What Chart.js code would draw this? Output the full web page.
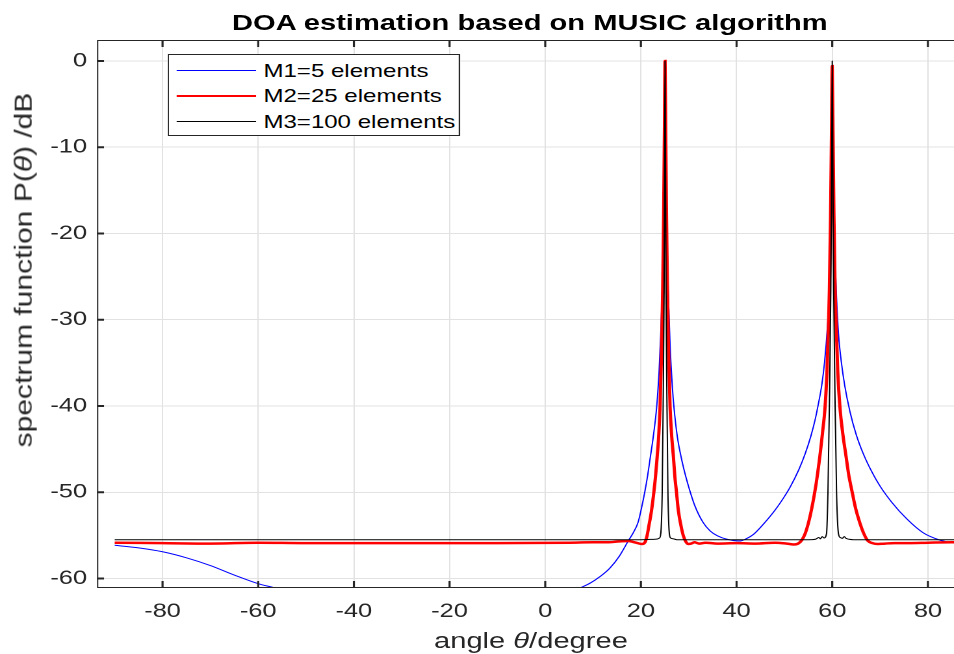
<!DOCTYPE html>
<html>
<head>
<meta charset="utf-8">
<script src="https://cdn.jsdelivr.net/npm/chart.js@4.4.1/dist/chart.umd.min.js"></script>
<style>
  html, body { margin: 0; padding: 0; background: #fff; }
  #wrap { position: absolute; left: 0; top: 0; width: 734px; height: 654px;
          transform: scaleX(1.2997); transform-origin: 0 0; font-family: "Liberation Sans", Arial, sans-serif; color: #000; }
  #c { position: absolute; left: 0; top: 0; }
  .title { position: absolute; left: 407.7px; top: 23px; transform: translate(-50%, -50%);
           font-weight: bold; font-size: 22.4px; white-space: nowrap; }
  .xlabel { position: absolute; left: 408.5px; top: 641px; transform: translate(-50%, -50%);
            font-size: 22.4px; white-space: nowrap; color: #262626; }
  .ylabel { position: absolute; left: 24px; top: 270px; transform: translate(-50%, -50%) rotate(-90deg) scale(1.34, 1.1);
            font-family: "Liberation Sans", Arial, sans-serif; font-size: 22.4px; white-space: nowrap; color: #262626; }
  .legend { position: absolute; left: 129.2px; top: 54px; width: 224.6px; height: 82px;
            border: 1px solid #262626; background: #fff; box-sizing: border-box; }
  .lrow { position: absolute; left: 0; height: 0; }
  .lline { position: absolute; left: 6px; width: 60.8px; }
  .ltext { position: absolute; left: 72.5px; font-size: 18.5px; white-space: nowrap; color: #000; transform: translateY(-50%); }
</style>
</head>
<body>
<div id="wrap">
  <canvas id="c" width="734" height="654"></canvas>
  <div class="title">DOA estimation based on MUSIC algorithm</div>
  <div class="xlabel">angle <i>θ</i>/degree</div>
  <div class="legend" id="legend"></div>
</div>
<div class="ylabel">spectrum function P(<i>θ</i>) /dB</div>
<script>
// ---- data ----
const seriesNames = ["M1=5 elements", "M2=25 elements", "M3=100 elements"];
const xTicks = [-80, -60, -40, -20, 0, 20, 40, 60, 80];
const yTicks = [0, -10, -20, -30, -40, -50, -60];

const m1Angle = [-90,-85,-80,-75,-70,-65,-60,-56.5,-50,-40,-30,-20,-10,-3,3,7.3,9.5,11.4,13.5,15.5,17.4,18.5,19.4,20.1,20.8,21.4,21.9,22.6,23.3,23.8,24.2,24.45,24.75,24.95,25.05,25.2,25.45,25.7,26.1,26.6,26.9,27.6,28.4,29.2,30.0,31.3,33.0,34.5,36.0,38.0,40.7,42.0,43.5,45.6,48.0,50.0,51.2,53.0,54.3,55.5,56.5,57.1,57.8,58.4,59.0,59.4,59.65,59.85,60.0,60.2,60.5,60.9,61.3,61.9,62.6,63.7,65.0,66.5,68.2,70.0,72.5,75.6,79.0,82.5,86.0,90.0];
const m1Power = [-56.15,-56.45,-56.9,-57.6,-58.5,-59.6,-60.6,-61.1,-62.2,-63.6,-64.5,-64.8,-64.3,-63.3,-62.2,-61.1,-60.5,-59.8,-58.8,-57.4,-55.6,-54.6,-53.5,-51.9,-50.0,-48.1,-46.2,-43.5,-40.1,-36,-31,-26.6,-18,-8,-3,-10,-20,-26.6,-33,-38,-40.1,-43.5,-45.9,-47.8,-49.4,-51.6,-53.5,-54.5,-55.05,-55.45,-55.65,-55.4,-54.9,-53.7,-52.1,-50.5,-49.4,-47.4,-45.6,-43.55,-41.4,-39.75,-37.6,-34.9,-30.8,-26.6,-21,-12,-1,-12,-21,-27.5,-31.6,-34.9,-37.6,-40.65,-43.3,-45.55,-47.55,-49.3,-51.2,-53.1,-54.7,-55.55,-55.95,-56.3];

const m2Angle = [-90,-80,-70,-60,-50,-30,-10,5,10,13,15.5,17.3,19.0,20.2,20.9,21.3,21.7,22.2,22.75,23.05,23.4,23.75,24.0,24.35,24.55,24.75,24.92,25.05,25.18,25.35,25.55,25.75,26.1,26.4,26.8,27.1,27.4,27.85,28.35,28.85,29.35,29.9,30.5,31.2,32.2,33.5,36,40,44,48,50.5,52,53.0,53.7,54.4,55.0,55.7,56.4,56.9,57.4,57.95,58.5,58.9,59.2,59.4,59.65,59.85,60.0,60.15,60.35,60.6,60.85,61.15,61.6,62.2,62.9,63.45,64.1,64.9,65.8,66.6,67.4,68.4,69.6,71.0,73,76,80,85,90];
const m2Power = [-55.85,-55.9,-55.95,-55.85,-55.9,-55.9,-55.9,-55.85,-55.8,-55.8,-55.7,-55.65,-55.85,-56.0,-55.75,-55.0,-53.8,-52.2,-49.8,-48.2,-45.9,-43.2,-40.1,-33,-26.6,-18,-8,0,-8,-18,-26.6,-33,-40.1,-43.2,-45.9,-48.2,-49.8,-52.2,-53.8,-55.0,-55.7,-56.0,-55.95,-55.8,-55.95,-55.85,-55.95,-55.9,-55.95,-55.85,-55.95,-56.05,-55.9,-55.5,-54.7,-53.6,-51.9,-49.8,-48.0,-45.9,-43.2,-40.1,-36,-31,-26.6,-18,-8,-0.6,-8,-18,-26.6,-31,-36,-40.1,-43.2,-45.9,-48.0,-49.8,-51.9,-53.6,-54.8,-55.6,-55.9,-56.0,-55.95,-55.9,-55.9,-55.85,-55.8,-55.85];

const m3Angle = [-90,0,20,23.0,23.9,24.2,24.45,24.65,24.85,24.97,25.05,25.13,25.25,25.45,25.65,25.9,26.2,26.8,27.5,55.0,56.5,57.2,57.5,57.9,58.3,58.8,59.1,59.4,59.7,59.9,60.0,60.1,60.3,60.6,60.9,61.3,61.7,62.1,62.5,62.9,63.5,64.5,90];
const m3Power = [-55.5,-55.5,-55.5,-55.45,-55.3,-54.5,-50,-40,-26.6,-10,0,-10,-26.6,-40,-50,-54.5,-55.3,-55.4,-55.5,-55.5,-55.45,-55.25,-55.4,-55.15,-55.3,-54.8,-50,-40,-26.6,-10,0,-10,-26.6,-40,-50,-54.8,-55.25,-55.35,-55.15,-55.35,-55.45,-55.5,-55.5];

const seriesColors = ["#0000ff", "#ff0000", "#000000"];
const seriesWidths = [1, 2.5, 1];

function pts(a, p) { return a.map((v, i) => ({ x: v, y: p[i] })); }

const SX = 1.2997;

const frameTicks = {
  id: 'frameTicks',
  afterDraw(chart) {
    const { ctx, chartArea: { left, right, top, bottom }, scales: { x, y } } = chart;
    ctx.save();
    ctx.strokeStyle = '#262626';
    ctx.lineWidth = 1;
    ctx.beginPath();
    ctx.moveTo(left + 0.5, top); ctx.lineTo(left + 0.5, bottom);
    ctx.moveTo(left, top + 0.5); ctx.lineTo(right, top + 0.5);
    ctx.moveTo(left, bottom - 0.5); ctx.lineTo(right, bottom - 0.5);
    ctx.stroke();
    ctx.lineWidth = 1.6;
    ctx.beginPath();
    xTicks.forEach(v => {
      const px = x.getPixelForValue(v);
      ctx.moveTo(px, bottom); ctx.lineTo(px, bottom - 7);
      ctx.moveTo(px, top); ctx.lineTo(px, top + 7);
    });
    ctx.stroke();
    ctx.lineWidth = 2;
    ctx.beginPath();
    yTicks.forEach(v => {
      const py = y.getPixelForValue(v);
      ctx.moveTo(left, py); ctx.lineTo(left + 7 / SX, py);
    });
    ctx.stroke();
    ctx.restore();
  }
};

new Chart(document.getElementById('c'), {
  type: 'line',
  data: {
    datasets: [0, 1, 2].map(i => ({
      label: seriesNames[i],
      data: pts([m1Angle, m2Angle, m3Angle][i], [m1Power, m2Power, m3Power][i]),
      borderColor: seriesColors[i],
      backgroundColor: seriesColors[i],
      borderWidth: seriesWidths[i],
      pointRadius: 0,
      fill: false,
      cubicInterpolationMode: 'monotone',
      clip: 0,
      order: 3 - i
    }))
  },
  options: {
    responsive: false,
    animation: false,
    devicePixelRatio: 2,
    layout: { padding: { top: 40, right: 0, bottom: 0, left: 0 } },
    plugins: { legend: { display: false }, tooltip: { enabled: false }, title: { display: false } },
    scales: {
      x: {
        type: 'linear', min: -93.7, max: 85.45,
        afterBuildTicks: s => { s.ticks = xTicks.map(v => ({ value: v })); },
        afterFit: s => { s.height = 66; s.paddingLeft = 0; s.paddingRight = 0; },
        grid: { color: '#e2e2e2', lineWidth: 1, drawTicks: false },
        border: { display: false },
        ticks: { color: '#262626', font: { family: '"Liberation Sans", Arial, sans-serif', size: 19.5 }, padding: 12, maxRotation: 0, autoSkip: false }
      },
      y: {
        type: 'linear', min: -61.1, max: 2.43,
        afterBuildTicks: s => { s.ticks = yTicks.map(v => ({ value: v })); },
        afterFit: s => { s.width = 97 / SX; s.paddingTop = 0; s.paddingBottom = 0; },
        grid: { color: '#e2e2e2', lineWidth: 1, drawTicks: false },
        border: { display: false },
        ticks: { color: '#262626', font: { family: '"Liberation Sans", Arial, sans-serif', size: 19.5 }, padding: 7.7, autoSkip: false }
      }
    }
  },
  plugins: [frameTicks]
});

// legend (HTML, text kept as real text)
const lg = document.getElementById('legend');
const rowY = [15.5, 41, 66.5];
seriesNames.forEach((n, i) => {
  const row = document.createElement('div');
  row.className = 'lrow';
  row.style.top = rowY[i] + 'px';
  const ln = document.createElement('div');
  ln.className = 'lline';
  ln.style.borderTop = seriesWidths[i] + 'px solid ' + seriesColors[i];
  ln.style.top = (-seriesWidths[i] / 2) + 'px';
  const tx = document.createElement('div');
  tx.className = 'ltext';
  tx.textContent = n;
  row.appendChild(ln); row.appendChild(tx);
  lg.appendChild(row);
});
</script>
</body>
</html>
